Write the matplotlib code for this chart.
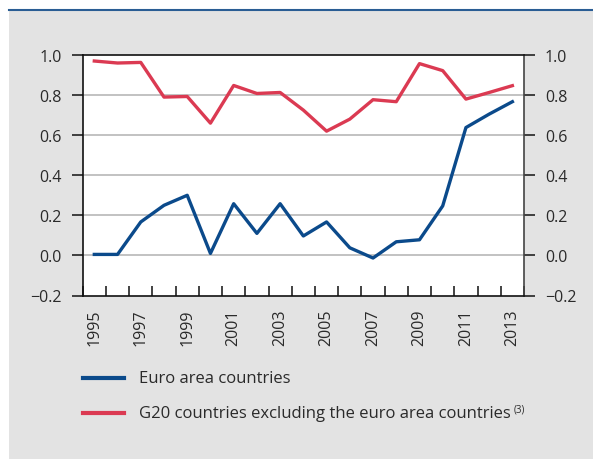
import matplotlib
matplotlib.use('Agg')
import matplotlib.pyplot as plt
from matplotlib.lines import Line2D
from matplotlib.patches import Rectangle

plt.rcParams['font.family'] = ['Open Sans', 'DejaVu Sans']

years = list(range(1995, 2014))
euro_area = [0.005, 0.005, 0.167, 0.25, 0.30, 0.01, 0.258, 0.11, 0.258, 0.097,
             0.167, 0.038, -0.013, 0.068, 0.078, 0.247, 0.638, 0.705, 0.767]
g20_ex_euro = [0.97, 0.96, 0.963, 0.79, 0.793, 0.66, 0.848, 0.808, 0.813, 0.725,
               0.62, 0.68, 0.777, 0.767, 0.957, 0.922, 0.78, 0.813, 0.847]
y_ticks = [-0.2, 0.0, 0.2, 0.4, 0.6, 0.8, 1.0]
legend_labels = ['Euro area countries', 'G20 countries excluding the euro area countries']

blue = '#0b4a8b'
red = '#db3a52'
grey_bg = '#e3e3e3'
txt = '#2a2a2a'

fig = plt.figure(figsize=(5.93, 4.6), dpi=100)
W, H = 593, 460

# grey panel + blue rule at top
fig.add_artist(Rectangle((9 / W, 0), 1 - 9 / W, 1 - 12 / H, transform=fig.transFigure,
                         facecolor=grey_bg, edgecolor='none', zorder=0))
fig.add_artist(Line2D([9 / W, 1], [1 - 11 / H, 1 - 11 / H], transform=fig.transFigure,
                      color='#2a5d94', lw=1.5))

ax = fig.add_axes([82.7 / W, 1 - 296.5 / H, (524 - 82.7) / W, (296.5 - 56) / H])
ax.set_facecolor('white')
x = list(range(len(years)))
ax.plot(x, euro_area, color=blue, lw=2.4, zorder=3)
ax.plot(x, g20_ex_euro, color=red, lw=2.4, zorder=3)

ax.set_xlim(-0.5, len(years) - 0.5)
ax.set_ylim(-0.2, 1.0)

# y axes on both sides
ax.set_yticks(y_ticks)
ax.set_yticklabels([f'{v:.1f}'.replace('-', '\u2212') for v in y_ticks])
ax.tick_params(axis='y', direction='out', length=8, width=1.2, color='#222222',
               labelsize=11.5, labelcolor=txt, pad=7, left=True, right=True,
               labelleft=True, labelright=True)
for v in y_ticks[1:-1]:
    ax.axhline(v, color='#b8b8b8', lw=1.2, zorder=1)

# x ticks at year boundaries, labels every other year
ax.set_xticks([i - 0.5 for i in range(len(years) + 1)], minor=True)
ax.set_xticks(x[::2])
ax.set_xticklabels([str(y) for y in years[::2]], rotation=90)
ax.tick_params(axis='x', which='minor', direction='in', length=7.5, width=1.2, color='#222222')
ax.tick_params(axis='x', which='major', length=0, labelsize=11.5, labelcolor=txt, pad=9)

for s in ['top', 'bottom', 'left']:
    ax.spines[s].set_color('#111111')
    ax.spines[s].set_linewidth(1.2)
ax.spines['right'].set_color('#444444')
ax.spines['right'].set_linewidth(1.2)

# legend drawn by hand
for i, (lab, col) in enumerate(zip(legend_labels, [blue, red])):
    yy = 1 - (379.3 + 35 * i) / H
    fig.add_artist(Line2D([82.7 / W, 124.3 / W], [yy, yy], transform=fig.transFigure,
                          color=col, lw=3))
    t = fig.text(139.3 / W, yy, lab, ha='left', va='center', fontsize=12, color=txt)
    if i == 1:
        ax.annotate('(3)', xy=(1, 0.8), xycoords=t, xytext=(1.5, 0),
                    textcoords='offset points', ha='left', va='center',
                    fontsize=7, color=txt, annotation_clip=False)

fig.savefig('out.png', dpi=100, facecolor='white')
